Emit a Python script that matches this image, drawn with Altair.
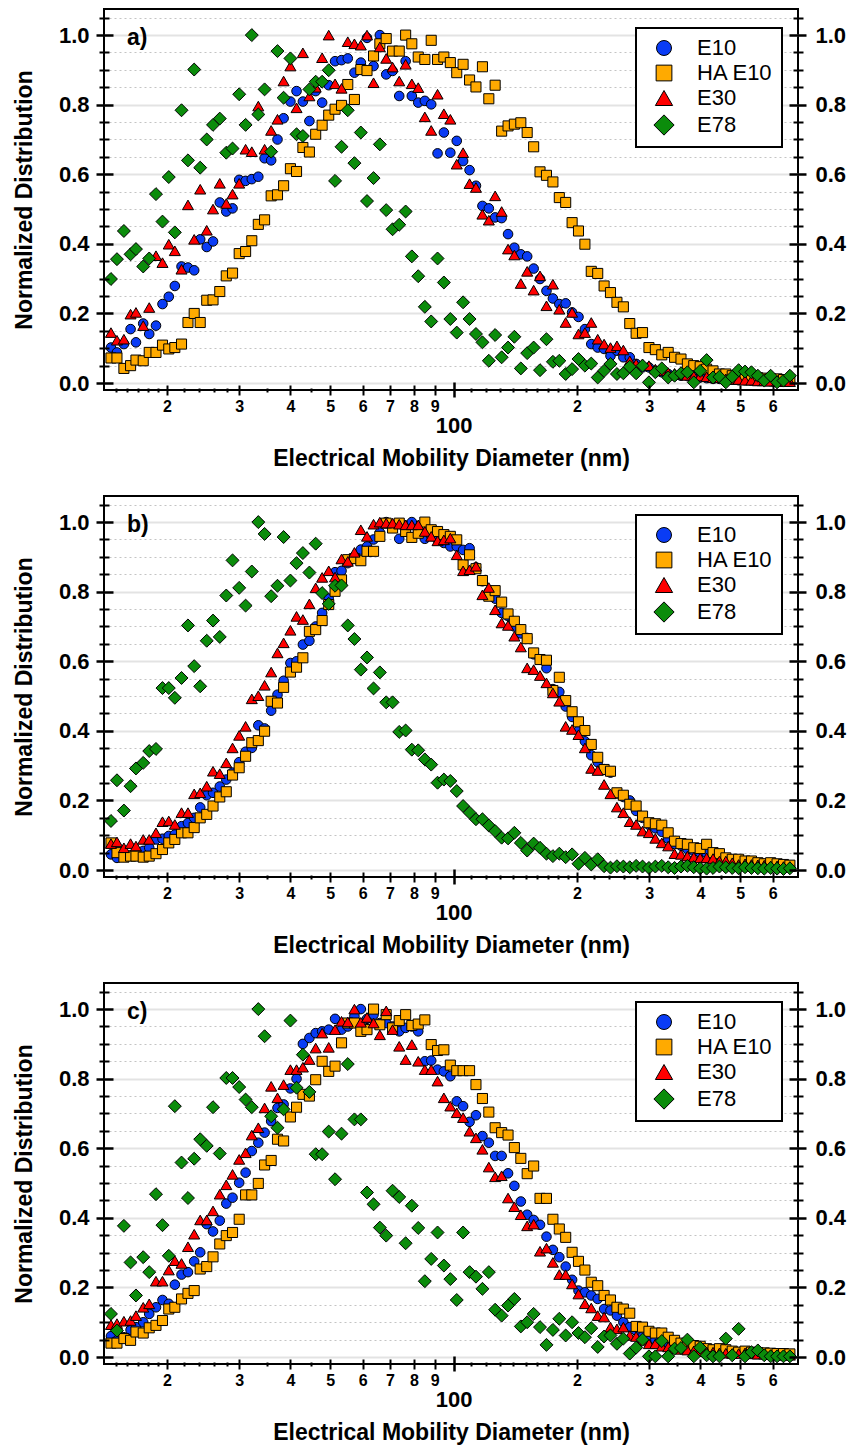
import altair as alt
import pandas as pd

FONT = "Liberation Sans"

# SMPS channel midpoints (64 channels per decade), nm
DIAMETER_NM = [
    14.6, 15.1, 15.7, 16.3, 16.8, 17.5, 18.1, 18.8, 19.5,
    20.2, 20.9, 21.7, 22.5, 23.3, 24.1, 25.0, 25.9, 26.9, 27.9,
    28.9, 30.0, 31.1, 32.2, 33.4, 34.6, 35.9, 37.2, 38.5, 40.0,
    41.4, 42.9, 44.5, 46.1, 47.8, 49.6, 51.4, 53.3, 55.2, 57.3,
    59.4, 61.5, 63.8, 66.1, 68.5, 71.0, 73.7, 76.4, 79.1, 82.0,
    85.1, 88.2, 91.4, 94.7, 98.2, 101.8, 105.5, 109.4, 113.4, 117.6,
    121.9, 126.3, 131.0, 135.8, 140.7, 145.9, 151.2, 156.8, 162.5, 168.5,
    174.7, 181.1, 187.7, 194.6, 201.7, 209.1, 216.7, 224.7, 232.9, 241.4,
    250.3, 259.5, 269.0, 278.8, 289.0, 299.6, 310.6, 322.0, 333.8, 346.0,
    358.7, 371.8, 385.4, 399.5, 414.2, 429.4, 445.1, 461.4, 478.3, 495.8,
    514.0, 532.8, 552.3, 572.5, 593.5, 615.3, 637.8, 661.2,
]

SERIES = ["E10", "HA E10", "E30", "E78"]
COLORS = ["#0a3cf5", "#ffaa00", "#ff0000", "#0b8c0b"]
# marker outlines in the unit box; the diamond and triangle are drawn a little larger
SHAPES = [
    "circle",
    "M-1.05,-1.05L1.05,-1.05L1.05,1.05L-1.05,1.05Z",
    "M0,-1L1.15,1L-1.15,1Z",
    "M0,-1.35L1.35,0L0,1.35L-1.35,0Z",
]

# ---- panel a ----
A_E10 = [
    0.102, 0.088, 0.112, 0.155, 0.117, 0.171, 0.141, 0.165, 0.227, 0.248,
    0.279, 0.335, 0.332, 0.324, 0.413, 0.391, 0.407, 0.519, 0.493, 0.502,
    0.584, 0.581, 0.586, 0.593, 0.646, 0.640, 0.700, 0.761, 0.809, 0.839,
    0.809, 0.753, 0.839, 0.806, 0.856, 0.925, 0.928, 0.933, 0.892, 0.921,
    0.992, 0.911, 1.000, 0.887, 0.897, 0.825, 0.925, 0.825, 0.806, 0.811,
    0.801, 0.660, 0.720, 0.662, 0.696, 0.638, 0.612, 0.567, 0.509, 0.502,
    0.476, 0.474, 0.428, 0.389, 0.370, 0.364, 0.329, 0.299, 0.265, 0.243,
    0.227, 0.229, 0.203, 0.190, 0.155, 0.112, 0.102, 0.098, 0.078, 0.093,
    0.074, 0.074, 0.055, 0.045, 0.045, 0.035, 0.031, 0.026, 0.021, 0.021,
    0.020, 0.018, 0.016, 0.014, 0.012, 0.012, 0.010, 0.010, 0.008, 0.008,
    0.007, 0.006, 0.006, 0.005, 0.005, 0.004, 0.004,
]
A_HA_E10 = [
    0.072, 0.072, 0.042, 0.050, 0.066, 0.064, 0.088, 0.088, 0.109, 0.098,
    0.102, 0.112, 0.174, 0.200, 0.174, 0.238, 0.239, 0.263, 0.308, 0.316,
    0.372, 0.378, 0.409, 0.456, 0.469, 0.538, 0.541, 0.567, 0.616, 0.608,
    0.677, 0.664, 0.715, 0.741, 0.770, 0.787, 0.798, 0.858, 0.815, 0.901,
    0.898, 0.940, 0.975, 0.990, 0.954, 0.954, 1.000, 0.975, 0.937, 0.930,
    0.985, 0.930, 0.937, 0.921, 0.892, 0.916, 0.871, 0.851, 0.909, 0.817,
    0.856, 0.724, 0.739, 0.744, 0.748, 0.720, 0.679, 0.607, 0.597, 0.578,
    0.533, 0.519, 0.461, 0.437, 0.399, 0.321, 0.315, 0.279, 0.260, 0.232,
    0.219, 0.171, 0.143, 0.145, 0.102, 0.096, 0.081, 0.088, 0.074, 0.069,
    0.055, 0.050, 0.047, 0.040, 0.035, 0.026, 0.026, 0.021, 0.021, 0.016,
    0.016, 0.015, 0.014, 0.012, 0.012, 0.010, 0.010,
]
A_E30 = [
    0.145, 0.123, 0.126, 0.198, 0.203, 0.165, 0.217, 0.366, 0.346, 0.399,
    0.380, 0.327, 0.512, 0.413, 0.557, 0.439, 0.500, 0.574, 0.516, 0.543,
    0.574, 0.672, 0.665, 0.796, 0.672, 0.726, 0.758, 0.868, 0.911, 0.791,
    0.949, 0.825, 0.850, 0.935, 1.000, 0.860, 0.847, 0.981, 0.975, 0.971,
    1.000, 0.863, 0.966, 0.933, 0.908, 0.868, 0.916, 0.860, 0.849, 0.765,
    0.726, 0.830, 0.774, 0.758, 0.629, 0.662, 0.573, 0.562, 0.485, 0.468,
    0.538, 0.493, 0.385, 0.368, 0.286, 0.321, 0.267, 0.308, 0.222, 0.284,
    0.212, 0.174, 0.203, 0.141, 0.145, 0.174, 0.126, 0.112, 0.102, 0.107,
    0.095, 0.064, 0.055, 0.055, 0.050, 0.040, 0.035, 0.030, 0.028, 0.025,
    0.022, 0.020, 0.020, 0.018, 0.015, 0.015, 0.012, 0.010, 0.010, 0.008,
    0.008, 0.006, 0.006, 0.005, 0.005, 0.004, 0.004,
]
A_E78 = [
    0.299, 0.356, 0.437, 0.370, 0.385, 0.335, 0.358, 0.543, 0.464, 0.592,
    0.433, 0.784, 0.640, 0.901, 0.619, 0.700, 0.742, 0.760, 0.662, 0.674,
    0.830, 0.742, 1.000, 0.772, 0.844, 0.665, 0.954, 0.820, 0.933, 0.715,
    0.710, 0.844, 0.866, 0.866, 0.899, 0.581, 0.679, 0.784, 0.632, 0.720,
    0.523, 0.589, 0.686, 0.497, 0.442, 0.455, 0.493, 0.364, 0.307, 0.219,
    0.177, 0.358, 0.289, 0.184, 0.145, 0.232, 0.184, 0.141, 0.117, 0.064,
    0.138, 0.074, 0.102, 0.133, 0.042, 0.086, 0.102, 0.037, 0.126, 0.061,
    0.064, 0.026, 0.040, 0.069, 0.050, 0.056, 0.016, 0.035, 0.055, 0.026,
    0.028, 0.047, 0.028, 0.050, 0.002, 0.031, 0.042, 0.016, 0.021, 0.028,
    0.031, 0.002, 0.035, 0.066, 0.016, 0.018, 0.002, 0.018, 0.037, 0.033,
    0.031, 0.021, 0.007, 0.021, 0.002, 0.007, 0.021,
]

# ---- panel b ----
B_E10 = [
    0.045, 0.035, 0.038, 0.042, 0.045, 0.055, 0.064, 0.088, 0.090, 0.098,
    0.102, 0.126, 0.135, 0.150, 0.180, 0.215, 0.222, 0.240, 0.260, 0.280,
    0.310, 0.340, 0.351, 0.416, 0.407, 0.458, 0.504, 0.544, 0.595, 0.600,
    0.648, 0.659, 0.700, 0.739, 0.780, 0.856, 0.860, 0.882, 0.900, 0.921,
    0.930, 0.950, 0.970, 1.000, 0.990, 0.952, 0.990, 1.000, 0.970, 0.952,
    0.960, 0.950, 0.940, 0.930, 0.930, 0.920, 0.925, 0.870, 0.830, 0.800,
    0.780, 0.739, 0.730, 0.700, 0.680, 0.667, 0.620, 0.605, 0.580, 0.520,
    0.512, 0.470, 0.440, 0.400, 0.370, 0.330, 0.310, 0.290, 0.280, 0.220,
    0.210, 0.200, 0.170, 0.150, 0.130, 0.120, 0.110, 0.090, 0.075, 0.070,
    0.060, 0.055, 0.050, 0.048, 0.042, 0.040, 0.034, 0.030, 0.028, 0.025,
    0.022, 0.020, 0.018, 0.017, 0.015, 0.014, 0.012,
]
B_HA_E10 = [
    0.078, 0.050, 0.037, 0.040, 0.040, 0.037, 0.040, 0.047, 0.059, 0.078,
    0.088, 0.107, 0.107, 0.122, 0.150, 0.160, 0.184, 0.210, 0.225, 0.273,
    0.294, 0.327, 0.366, 0.372, 0.399, 0.485, 0.480, 0.525, 0.569, 0.583,
    0.610, 0.686, 0.691, 0.717, 0.763, 0.801, 0.834, 0.892, 0.895, 0.889,
    0.916, 0.916, 0.959, 0.997, 0.983, 0.997, 0.973, 0.956, 0.968, 1.000,
    0.978, 0.973, 0.964, 0.959, 0.949, 0.877, 0.906, 0.866, 0.832, 0.787,
    0.803, 0.770, 0.736, 0.715, 0.691, 0.665, 0.624, 0.605, 0.603, 0.516,
    0.554, 0.487, 0.455, 0.426, 0.401, 0.361, 0.324, 0.289, 0.284, 0.222,
    0.215, 0.189, 0.184, 0.155, 0.136, 0.133, 0.129, 0.107, 0.083, 0.076,
    0.074, 0.064, 0.062, 0.074, 0.050, 0.047, 0.035, 0.031, 0.031, 0.026,
    0.026, 0.021, 0.018, 0.021, 0.018, 0.016, 0.014,
]
B_E30 = [
    0.076, 0.081, 0.064, 0.076, 0.069, 0.088, 0.088, 0.107, 0.139, 0.141,
    0.131, 0.165, 0.165, 0.219, 0.222, 0.241, 0.284, 0.277, 0.308, 0.351,
    0.387, 0.413, 0.492, 0.501, 0.531, 0.569, 0.624, 0.653, 0.689, 0.729,
    0.720, 0.765, 0.811, 0.841, 0.860, 0.842, 0.894, 0.887, 0.913, 0.978,
    0.959, 0.994, 1.000, 0.997, 0.997, 0.994, 0.992, 0.992, 0.992, 0.973,
    0.959, 0.946, 0.949, 0.954, 0.906, 0.860, 0.863, 0.873, 0.791, 0.812,
    0.748, 0.710, 0.703, 0.672, 0.641, 0.581, 0.576, 0.559, 0.538, 0.509,
    0.485, 0.413, 0.404, 0.389, 0.351, 0.292, 0.286, 0.246, 0.219, 0.181,
    0.165, 0.139, 0.131, 0.112, 0.107, 0.091, 0.078, 0.069, 0.047, 0.045,
    0.040, 0.037, 0.035, 0.035, 0.033, 0.026, 0.026, 0.021, 0.016, 0.018,
    0.016, 0.015, 0.014, 0.012, 0.012, 0.010, 0.010,
]
B_E78 = [
    0.141, 0.258, 0.171, 0.241, 0.292, 0.308, 0.342, 0.348, 0.523, 0.523,
    0.495, 0.552, 0.703, 0.586, 0.528, 0.659, 0.717, 0.670, 0.789, 0.890,
    0.811, 0.760, 0.858, 1.000, 0.966, 0.787, 0.817, 0.957, 0.832, 0.882,
    0.911, 0.855, 0.938, 0.796, 0.765, 0.817, 0.818, 0.703, 0.664, 0.576,
    0.611, 0.522, 0.568, 0.482, 0.482, 0.397, 0.401, 0.346, 0.344, 0.318,
    0.303, 0.251, 0.260, 0.256, 0.227, 0.184, 0.165, 0.146, 0.146, 0.128,
    0.112, 0.093, 0.091, 0.107, 0.078, 0.056, 0.076, 0.064, 0.047, 0.040,
    0.047, 0.037, 0.045, 0.018, 0.035, 0.016, 0.031, 0.011, 0.007, 0.011,
    0.010, 0.008, 0.012, 0.010, 0.006, 0.010, 0.012, 0.008, 0.006, 0.010,
    0.012, 0.008, 0.005, 0.004, 0.006, 0.010, 0.008, 0.006, 0.005, 0.008,
    0.006, 0.005, 0.004, 0.006, 0.004, 0.003, 0.005,
]

# ---- panel c ----
C_E10 = [
    0.060, 0.048, 0.057, 0.078, 0.086, 0.100, 0.124, 0.143, 0.164, 0.153,
    0.208, 0.237, 0.244, 0.275, 0.301, 0.382, 0.361, 0.392, 0.441, 0.458,
    0.501, 0.530, 0.592, 0.616, 0.645, 0.678, 0.716, 0.726, 0.772, 0.800,
    0.900, 0.917, 0.931, 0.936, 0.941, 0.972, 0.941, 0.950, 0.979, 1.000,
    0.972, 0.984, 0.960, 0.960, 0.950, 0.936, 0.946, 0.950, 0.936, 0.850,
    0.852, 0.826, 0.821, 0.807, 0.735, 0.721, 0.676, 0.695, 0.635, 0.616,
    0.578, 0.578, 0.528, 0.492, 0.447, 0.409, 0.394, 0.380, 0.346, 0.308,
    0.287, 0.260, 0.222, 0.191, 0.186, 0.177, 0.167, 0.138, 0.134, 0.119,
    0.100, 0.086, 0.076, 0.059, 0.057, 0.050, 0.043, 0.038, 0.033, 0.031,
    0.029, 0.026, 0.024, 0.020, 0.018, 0.016, 0.015, 0.013, 0.012, 0.010,
    0.010, 0.009, 0.008, 0.007, 0.006, 0.005, 0.005,
]
C_HA_E10 = [
    0.040, 0.040, 0.053, 0.048, 0.072, 0.069, 0.084, 0.091, 0.105, 0.138,
    0.143, 0.167, 0.183, 0.191, 0.253, 0.260, 0.288, 0.325, 0.349, 0.358,
    0.396, 0.466, 0.466, 0.499, 0.552, 0.565, 0.626, 0.621, 0.690, 0.718,
    0.755, 0.750, 0.797, 0.850, 0.821, 0.836, 0.903, 0.960, 0.960, 0.936,
    0.941, 1.000, 0.955, 0.984, 0.946, 0.967, 0.984, 0.953, 0.957, 0.969,
    0.898, 0.881, 0.883, 0.839, 0.823, 0.823, 0.823, 0.783, 0.743, 0.704,
    0.659, 0.645, 0.638, 0.602, 0.571, 0.527, 0.549, 0.456, 0.456, 0.396,
    0.368, 0.344, 0.301, 0.275, 0.250, 0.215, 0.205, 0.177, 0.164, 0.143,
    0.138, 0.126, 0.088, 0.086, 0.074, 0.069, 0.069, 0.057, 0.048, 0.040,
    0.038, 0.033, 0.031, 0.024, 0.021, 0.024, 0.021, 0.017, 0.014, 0.017,
    0.014, 0.013, 0.012, 0.011, 0.010, 0.010, 0.009,
]
C_E30 = [
    0.093, 0.096, 0.103, 0.105, 0.119, 0.143, 0.153, 0.218, 0.218, 0.250,
    0.277, 0.269, 0.317, 0.353, 0.394, 0.394, 0.420, 0.468, 0.495, 0.525,
    0.568, 0.587, 0.638, 0.659, 0.716, 0.778, 0.745, 0.783, 0.826, 0.826,
    0.833, 0.855, 0.888, 0.931, 0.890, 0.941, 0.965, 0.963, 1.000, 0.962,
    0.976, 0.960, 0.926, 0.995, 0.941, 0.893, 0.855, 0.898, 0.850, 0.826,
    0.826, 0.793, 0.745, 0.721, 0.702, 0.688, 0.649, 0.630, 0.597, 0.546,
    0.518, 0.521, 0.457, 0.432, 0.409, 0.377, 0.382, 0.304, 0.313, 0.272,
    0.237, 0.237, 0.210, 0.181, 0.153, 0.141, 0.119, 0.115, 0.086, 0.081,
    0.086, 0.062, 0.059, 0.048, 0.038, 0.038, 0.031, 0.029, 0.024, 0.022,
    0.020, 0.018, 0.016, 0.015, 0.014, 0.012, 0.011, 0.010, 0.010, 0.012,
    0.009, 0.008, 0.008, 0.007, 0.006, 0.005, 0.005,
]
C_E78 = [
    0.124, 0.076, 0.377, 0.272, 0.177, 0.287, 0.244, 0.468, 0.379, 0.291,
    0.721, 0.559, 0.457, 0.570, 0.626, 0.607, 0.718, 0.585, 0.802, 0.802,
    0.776, 0.740, 0.718, 1.000, 0.922, 0.692, 0.659, 0.712, 0.967, 0.774,
    0.869, 0.762, 0.583, 0.583, 0.648, 0.511, 0.642, 0.842, 0.683, 0.683,
    0.473, 0.439, 0.372, 0.349, 0.478, 0.460, 0.327, 0.435, 0.371, 0.218,
    0.282, 0.358, 0.263, 0.224, 0.164, 0.358, 0.244, 0.231, 0.196, 0.244,
    0.136, 0.119, 0.148, 0.167, 0.088, 0.100, 0.124, 0.086, 0.035, 0.078,
    0.110, 0.062, 0.100, 0.069, 0.057, 0.083, 0.029, 0.059, 0.062, 0.038,
    0.053, 0.010, 0.027, 0.050, 0.002, 0.002, 0.046, 0.002, 0.024, 0.026,
    0.050, 0.002, 0.027, 0.005, 0.002, 0.002, 0.053, 0.005, 0.081, 0.002,
    0.014, 0.019, 0.005, 0.002, 0.002, 0.002, 0.002,
]

PANELS = [
    ("a)", [A_E10, A_HA_E10, A_E30, A_E78]),
    ("b)", [B_E10, B_HA_E10, B_E30, B_E78]),
    ("c)", [C_E10, C_HA_E10, C_E30, C_E78]),
]

# axis tick positions
Y_MAJOR = [0.0, 0.2, 0.4, 0.6, 0.8, 1.0]
Y_MINOR = [0.05, 0.1, 0.15, 0.25, 0.3, 0.35, 0.45, 0.5, 0.55,
           0.65, 0.7, 0.75, 0.85, 0.9, 0.95, 1.05]
X_DECADE = [100]
X_DIGITS = [20, 30, 40, 50, 60, 70, 80, 90, 200, 300, 400, 500, 600]
X_MINOR = [15, 16, 17, 18, 19, 22, 24, 26, 28, 35, 45,
           110, 120, 130, 140, 150, 160, 170, 180, 190,
           220, 240, 260, 280, 350, 450]

PLOT_W, PLOT_H = 694, 381
X_SCALE = alt.Scale(type="log", domain=[14.04, 692], nice=False)
Y_SCALE = alt.Scale(domain=[-0.02, 1.075], nice=False, zero=False)


def tick_axis(values, orient, offset, size, width, **extra):
    opts = dict(values=values, orient=orient, offset=offset, tickSize=size,
                tickWidth=width, tickColor="black", domain=False, grid=False,
                labelFlush=False, labelOverlap=False, zindex=1)
    opts.update(extra)
    if "title" not in opts:
        opts["title"] = None
    if "labels" not in opts and "labelFontSize" not in opts:
        opts["labels"] = False
    return alt.Axis(**opts)


def grid_axis(values, color, width, dash=None):
    opts = dict(values=values, orient="left", grid=True, gridColor=color,
                gridWidth=width, ticks=False, labels=False, domain=False,
                title=None, zindex=0)
    if dash:
        opts["gridDash"] = dash
    return alt.Axis(**opts)


Y_LABELS = dict(format=".1f", labelFont=FONT, labelFontSize=22,
                labelFontWeight="bold", labelColor="black")


def panel(tag, columns):
    rows = []
    for name, values in zip(SERIES, columns):
        for d, v in zip(DIAMETER_NM, values):
            rows.append({"series": name, "diameter": d, "value": v})
    df = pd.DataFrame(rows)

    legend = alt.Legend(
        title=None, orient="none", legendX=532, legendY=19, padding=9,
        symbolOffset=8, labelOffset=22, rowPadding=3, symbolSize=225,
        symbolStrokeColor="black", symbolStrokeWidth=1,
        labelFont=FONT, labelFontSize=22, labelColor="black",
        strokeColor="black", fillColor="white",
    )

    def xenc(axis):
        return alt.X("diameter:Q", scale=X_SCALE, axis=axis)

    def yenc(axis):
        return alt.Y("value:Q", scale=Y_SCALE, axis=axis)

    points = alt.Chart(df).mark_point(
        filled=True, opacity=1, stroke="black", strokeWidth=1, size=92
    ).encode(
        x=xenc(tick_axis(X_MINOR, "bottom", -2, 4, 2)),
        y=yenc(grid_axis(Y_MAJOR, "#e3e3e3", 2)),
        color=alt.Color("series:N", scale=alt.Scale(domain=SERIES, range=COLORS), legend=legend),
        shape=alt.Shape("series:N", scale=alt.Scale(domain=SERIES, range=SHAPES), legend=legend),
    )

    ghost = alt.Chart(df).mark_point(opacity=0, size=1)

    digits = ghost.encode(
        x=xenc(tick_axis(
            X_DIGITS, "bottom", -5, 10, 2,
            labelExpr="format(datum.value < 100 ? datum.value / 10 : datum.value / 100, 'd')",
            labelFont=FONT, labelFontSize=16, labelFontWeight="bold",
            labelColor="black", labelPadding=3)),
        y=yenc(grid_axis(Y_MINOR, "#c4c4c4", 1, [2, 3])),
    )

    decade = ghost.encode(
        x=xenc(tick_axis(
            X_DECADE, "bottom", -8, 15, 2.5, format="d",
            labelFont=FONT, labelFontSize=22, labelFontWeight="bold",
            labelColor="black", labelPadding=18,
            title="Electrical Mobility Diameter (nm)", titleFont=FONT,
            titleFontSize=23, titleFontWeight="bold", titleColor="black",
            titlePadding=11)),
        y=yenc(tick_axis(
            Y_MAJOR, "left", -9, 17, 2.5, labelPadding=7, **Y_LABELS,
            title="Normalized Distribution", titleFont=FONT,
            titleFontSize=23, titleFontWeight="bold", titleColor="black",
            titlePadding=22)),
    )

    left_minor = ghost.encode(y=yenc(tick_axis(Y_MINOR, "left", -5, 10, 2)))
    right_major = ghost.encode(
        y=yenc(tick_axis(Y_MAJOR, "right", -9, 17, 2.5, labelPadding=9, **Y_LABELS))
    )
    right_minor = ghost.encode(y=yenc(tick_axis(Y_MINOR, "right", -5, 10, 2)))

    label = alt.Chart(pd.DataFrame({"tag": [tag]})).mark_text(
        align="left", baseline="middle", font=FONT, fontSize=23,
        fontWeight="bold", color="black"
    ).encode(text="tag:N", x=alt.value(23), y=alt.value(29))

    return alt.layer(
        points, digits, decade, left_minor, right_major, right_minor, label
    ).resolve_axis(x="independent", y="independent").properties(
        width=PLOT_W, height=PLOT_H
    )


chart = alt.vconcat(
    *[panel(tag, cols) for tag, cols in PANELS], spacing=24
).resolve_scale(
    x="independent", y="independent", color="independent", shape="independent"
).resolve_legend(
    color="independent", shape="independent"
).properties(
    padding={"left": 12, "top": 8, "right": 2, "bottom": 2},
    background="white",
).configure_view(
    stroke="black", strokeWidth=2
).configure_legend(
    strokeWidth=2
)

chart.save("out.html", embed_options={"renderer": "svg", "actions": False})
